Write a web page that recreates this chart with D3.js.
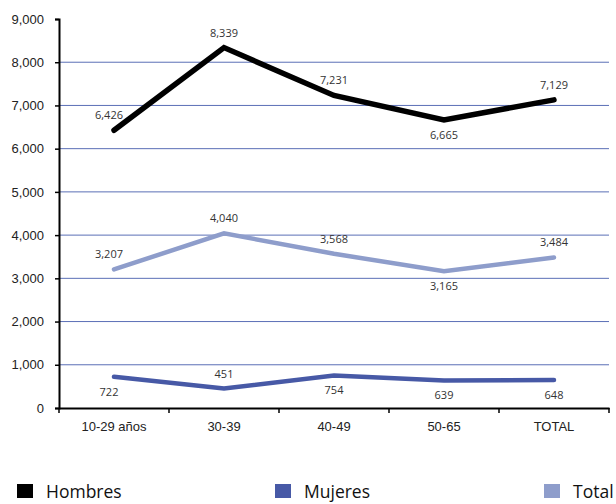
<!DOCTYPE html>
<html>
<head>
<meta charset="utf-8">
<script src="https://cdn.jsdelivr.net/npm/d3@7"></script>
<style>
  html, body { margin: 0; padding: 0; background: #fff; }
  svg { display: block; font-family: "Open Sans", "Noto Sans", sans-serif; }
</style>
</head>
<body>
<svg id="chart" width="616" height="504"></svg>
<script>
// Age groups on the horizontal axis
const categories = ["10-29 años", "30-39", "40-49", "50-65", "TOTAL"];

// Series values
const hombres = [6426, 8339, 7231, 6665, 7129];
const mujeres = [722, 451, 754, 639, 648];
const total = [3207, 4040, 3568, 3165, 3484];

// Y axis ticks
const yTicks = [0, 1000, 2000, 3000, 4000, 5000, 6000, 7000, 8000, 9000];

const seriesNames = ["Hombres", "Mujeres", "Total"];

const svg = d3.select("#chart");
const fmt = d3.format(",");

const x = d3.scaleBand().domain(categories).range([59, 609]);
const y = d3.scaleLinear().domain([0, 9000]).range([408, 19]);

// Horizontal gridlines
svg.append("g")
  .selectAll("line")
  .data(yTicks.filter(t => t > 0 && t < 9000))
  .join("line")
  .attr("x1", 59).attr("x2", 609)
  .attr("y1", d => y(d)).attr("y2", d => y(d))
  .attr("stroke", "#5b6fb6")
  .attr("stroke-width", 1);

// Y axis
const yAxis = svg.append("g")
  .attr("transform", "translate(59,0)")
  .call(d3.axisLeft(y).tickValues(yTicks).tickFormat(fmt).tickSize(4).tickPadding(11));
yAxis.select(".domain").attr("stroke", "#000").attr("stroke-width", 2);
yAxis.selectAll(".tick line").attr("stroke", "#000").attr("stroke-width", 1.5);
yAxis.selectAll("text").attr("font-size", 13).attr("fill", "#222");

// X axis
const xAxis = svg.append("g")
  .attr("transform", "translate(0,408)")
  .call(d3.axisBottom(x).tickSize(0).tickPadding(14));
xAxis.select(".domain").attr("stroke", "#000").attr("stroke-width", 2);
xAxis.selectAll("text").attr("font-size", 13).attr("fill", "#222");
// Ticks at band boundaries
xAxis.append("g")
  .selectAll("line")
  .data(categories.map(c => x(c)).concat([x.range()[1]]))
  .join("line")
  .attr("x1", d => d).attr("x2", d => d)
  .attr("y1", 0).attr("y2", 5)
  .attr("stroke", "#000").attr("stroke-width", 1.5);

const colors = { Hombres: "#000000", Mujeres: "#4759a6", Total: "#8e9dcb" };
const widths = { Hombres: 5.5, Mujeres: 4.5, Total: 4.5 };
const dataBySeries = { Hombres: hombres, Mujeres: mujeres, Total: total };
// label placement: -1 above the point, +1 below it
const labelSide = {
  Hombres: [-1, -1, -1, 1, -1],
  Mujeres: [1, -1, 1, 1, 1],
  Total: [-1, -1, -1, 1, -1]
};

const cx = c => x(c) + x.bandwidth() / 2;
const line = d3.line().x(d => cx(d.c)).y(d => y(d.v));

["Total", "Mujeres", "Hombres"].forEach(name => {
  const pts = categories.map((c, i) => ({ c, v: dataBySeries[name][i], side: labelSide[name][i], i }));
  svg.append("path")
    .datum(pts)
    .attr("d", line)
    .attr("fill", "none")
    .attr("stroke", colors[name])
    .attr("stroke-width", widths[name])
    .attr("stroke-linejoin", "miter")
    .attr("stroke-linecap", "round");

  svg.append("g")
    .selectAll("text")
    .data(pts)
    .join("text")
    .attr("x", d => cx(d.c) + (d.i === 0 ? -5 : 0))
    .attr("y", d => y(d.v) + (d.side < 0 ? -11 : 19))
    .attr("text-anchor", "middle")
    .attr("font-size", 11)
    .attr("fill", "#333")
    .text(d => fmt(d.v));
});

// Legend
const legendX = [17, 275, 544];
const legend = svg.append("g")
  .selectAll("g")
  .data(seriesNames)
  .join("g")
  .attr("transform", (d, i) => `translate(${legendX[i]},484)`);
legend.append("rect")
  .attr("width", 16).attr("height", 14)
  .attr("fill", d => colors[d]);
legend.append("text")
  .attr("x", 29).attr("y", 14)
  .attr("font-size", 17.5)
  .attr("fill", "#111")
  .text(d => d);
</script>
</body>
</html>
